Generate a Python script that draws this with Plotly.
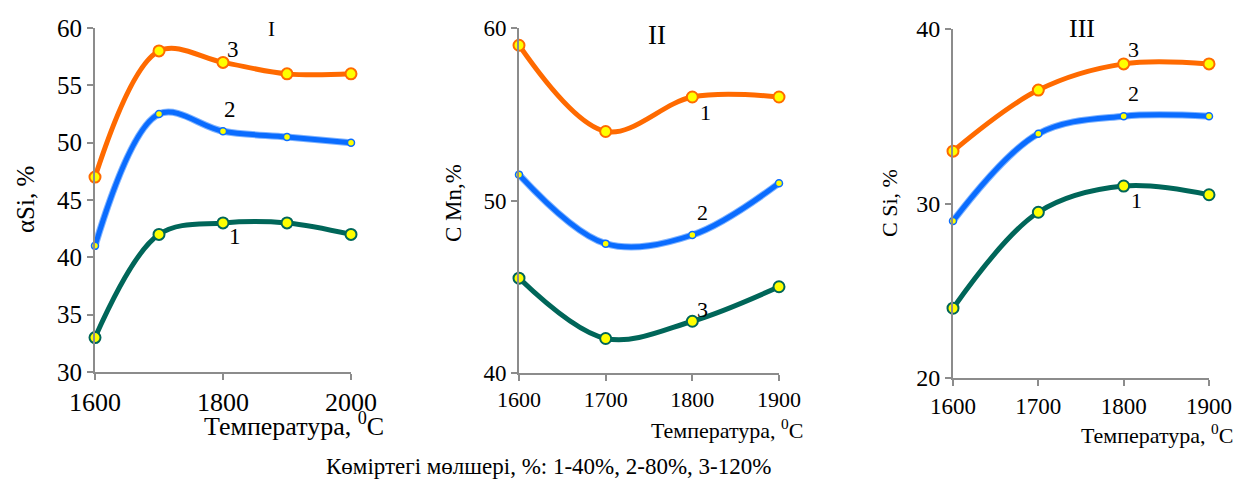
import plotly.graph_objects as go

# ---------------- data ----------------
temps_I = [1600, 1700, 1800, 1900, 2000]
I_c40 = [33, 42, 43, 43, 42]
I_c80 = [41, 52.5, 51, 50.5, 50]
I_c120 = [47, 58, 57, 56, 56]

temps_II = [1600, 1700, 1800, 1900]
II_s1 = [59, 54, 56, 56]
II_s2 = [51.5, 47.5, 48, 51]
II_s3 = [45.5, 42, 43, 45]

temps_III = [1600, 1700, 1800, 1900]
III_c40 = [24, 29.5, 31, 30.5]
III_c80 = [29, 34, 35, 35]
III_c120 = [33, 36.5, 38, 38]

xticks_I = [1600, 1800, 2000]
xticks_II = [1600, 1700, 1800, 1900]
yticks_I = [30, 35, 40, 45, 50, 55, 60]
yticks_II = [40, 50, 60]
yticks_III = [20, 30, 40]

ORANGE = "#FF6A00"
BLUE = "#0A6CFF"
TEAL = "#006659"
YELLOW = "#FFFF00"
FONT = "Liberation Serif, Times New Roman, serif"
AXC = "#8C8C8C"

W, H = 1245, 484

fig = go.Figure()


def add_series(x, y, color, big, xa, ya, edge=None):
    if edge:
        fig.add_trace(go.Scatter(
            x=x, y=y, mode="lines", xaxis=xa, yaxis=ya,
            line=dict(color=edge, width=7, shape="spline", smoothing=1.0),
            cliponaxis=False, showlegend=False, hoverinfo="skip"))
    fig.add_trace(go.Scatter(
        x=x, y=y, mode="lines+markers", xaxis=xa, yaxis=ya,
        line=dict(color=color, width=5, shape="spline", smoothing=1.0),
        marker=dict(color=YELLOW, size=11 if big else 7,
                    line=dict(color=color, width=2 if big else 1.5)),
        cliponaxis=False, showlegend=False))


# Panel I
add_series(temps_I, I_c120, ORANGE, True, "x", "y")
add_series(temps_I, I_c80, BLUE, False, "x", "y", edge="#7FB3FF")
add_series(temps_I, I_c40, TEAL, True, "x", "y")
# Panel II
add_series(temps_II, II_s1, ORANGE, True, "x2", "y2")
add_series(temps_II, II_s2, BLUE, False, "x2", "y2", edge="#7FB3FF")
add_series(temps_II, II_s3, TEAL, True, "x2", "y2")
# Panel III
add_series(temps_III, III_c120, ORANGE, True, "x3", "y3")
add_series(temps_III, III_c80, BLUE, False, "x3", "y3", edge="#7FB3FF")
add_series(temps_III, III_c40, TEAL, True, "x3", "y3")


def px_x(p):
    return p / W


def px_y(p):
    return 1 - p / H


def xaxis(dom, rng, ticks, size):
    return dict(domain=dom, range=rng, tickvals=ticks, showgrid=False,
                zeroline=False, showline=True, linecolor=AXC, linewidth=2,
                ticks="outside", ticklen=6, tickwidth=2, tickcolor=AXC,
                tickfont=dict(family=FONT, size=size, color="black"),
                automargin=False, fixedrange=True)


def yaxis(dom, rng, ticks, size, anchor):
    return dict(domain=dom, range=rng, tickvals=ticks, showgrid=False,
                zeroline=False, showline=True, linecolor=AXC, linewidth=2,
                ticks="outside", ticklen=6, tickwidth=2, tickcolor=AXC,
                tickfont=dict(family=FONT, size=size, color="black"),
                anchor=anchor, automargin=False, fixedrange=True)


fig.update_layout(
    width=W, height=H, margin=dict(l=0, r=0, t=0, b=0, autoexpand=False),
    plot_bgcolor="white", paper_bgcolor="white",
    xaxis=dict(**xaxis([px_x(95), px_x(351)], [1600, 2000], xticks_I, 26), anchor="y"),
    yaxis=yaxis([px_y(372), px_y(28)], [30, 60], yticks_I, 25, "x"),
    xaxis2=dict(**xaxis([px_x(519), px_x(779)], [1600, 1900], xticks_II, 22), anchor="y2"),
    yaxis2=yaxis([px_y(373), px_y(28)], [40, 60], yticks_II, 23, "x2"),
    xaxis3=dict(**xaxis([px_x(953), px_x(1209)], [1600, 1900], xticks_II, 23), anchor="y3"),
    yaxis3=yaxis([px_y(378), px_y(29)], [20, 40], yticks_III, 24, "x3"),
)

ann = []


def txt(x, y, t, size, xref="paper", yref="paper", xanchor="center", yanchor="middle", angle=0):
    ann.append(dict(x=x, y=y, text=t, xref=xref, yref=yref, showarrow=False,
                    xanchor=xanchor, yanchor=yanchor, textangle=angle,
                    font=dict(family=FONT, size=size, color="black")))


# series labels (data coordinates)
txt(1876, 59.9, "I", 21, "x", "y")
txt(1815, 58.1, "3", 23, "x", "y")
txt(1811, 52.9, "2", 23, "x", "y")
txt(1819, 41.8, "1", 23, "x", "y")

txt(1759, 59.6, "II", 27, "x2", "y2")
txt(1815, 55.1, "1", 22, "x2", "y2")
txt(1812, 49.3, "2", 22, "x2", "y2")
txt(1812, 43.7, "3", 22, "x2", "y2")

txt(1751, 40.0, "III", 26, "x3", "y3")
txt(1812, 38.8, "3", 22, "x3", "y3")
txt(1812, 36.3, "2", 22, "x3", "y3")
txt(1815, 30.2, "1", 22, "x3", "y3")

# axis titles
txt(px_x(26), px_y(200), "αSi, %", 25, angle=-90)
txt(px_x(453), px_y(203), "C Mn,%", 23, angle=-90)
txt(px_x(889), px_y(203), "C Si, %", 22, angle=-90)

txt(px_x(294), px_y(424), "Температура, <sup>0</sup>C", 26)
txt(px_x(727), px_y(429), "Температура, <sup>0</sup>C", 22)
txt(px_x(1157), px_y(434), "Температура, <sup>0</sup>C", 22)

txt(px_x(548), px_y(466), "Көміртегі мөлшері, %: 1-40%, 2-80%, 3-120%", 23)

fig.update_layout(annotations=ann)

fig.write_html("out.html")
